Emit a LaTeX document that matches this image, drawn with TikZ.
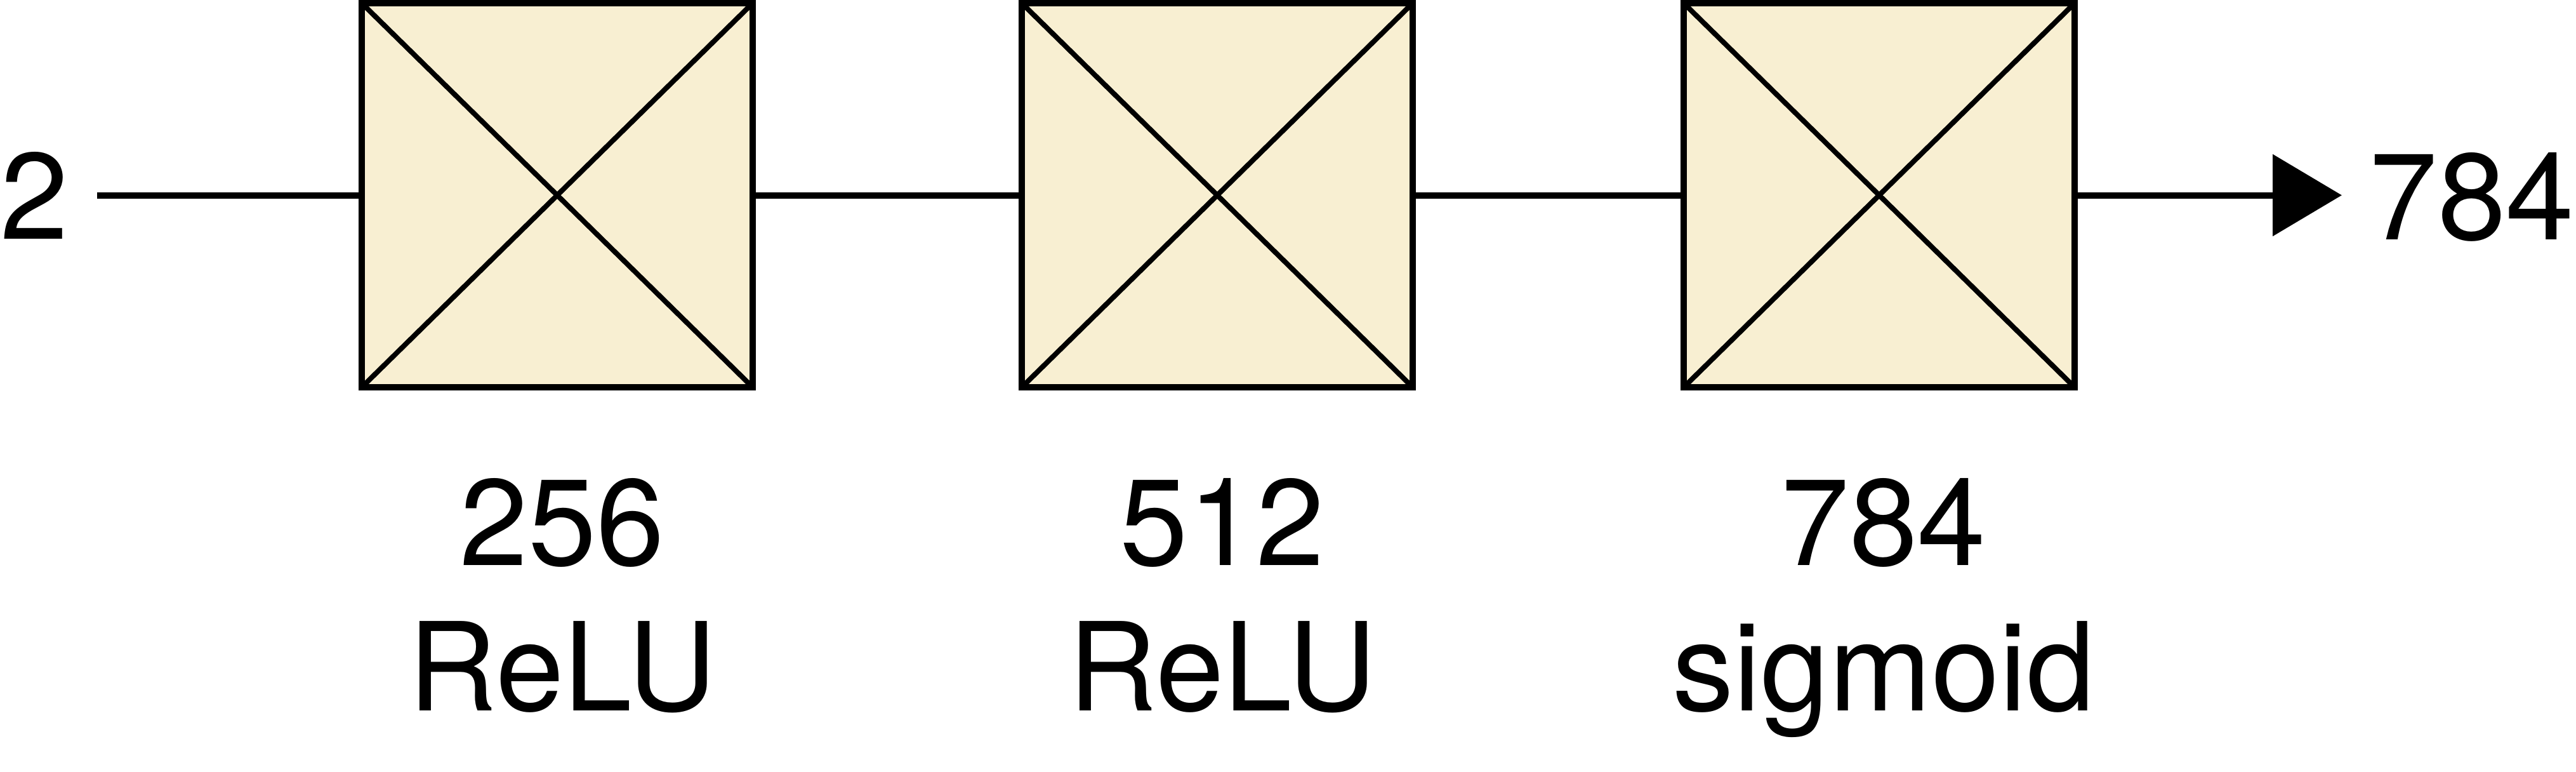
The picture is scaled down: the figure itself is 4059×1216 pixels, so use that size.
\documentclass[tikz,border=0pt]{standalone}
\usepackage{fontspec}
\setmainfont{TeX Gyre Heros}
\usepackage{xcolor}
\usepackage{tikz}
\usetikzlibrary{arrows.meta}
\definecolor{layerfill}{RGB}{248,239,210}

\begin{document}
\begin{tikzpicture}[x=0.05mm,y=-0.05mm]
\tikzstyle{every node}+=[inner sep=0pt,outer sep=0pt,font=\fontsize{27.5}{32}\selectfont]
\tikzstyle{layer}=[draw=black,line width=0.5mm,fill=layerfill,minimum width=30.8mm,minimum height=30.25mm]
\tikzstyle{cross}=[black,line width=0.4mm]
\tikzstyle{wire}=[black,line width=0.5mm]
\useasboundingbox (0,0) rectangle (4059,1216);
\node (in) [anchor=base] at (54,376) {2};
\coordinate (start) at (153,307.5);
\node [layer] (l1) at (878,307.5) {};
\node [layer] (l2) at (1918,307.5) {};
\node [layer] (l3) at (2961,307.5) {};
\coordinate (tip) at (3690,307.5);
\node (out) [anchor=base] at (3895,377) {784};
\draw [cross] (l1.north west) -- (l1.south east);
\draw [cross] (l1.south west) -- (l1.north east);
\draw [cross] (l2.north west) -- (l2.south east);
\draw [cross] (l2.south west) -- (l2.north east);
\draw [cross] (l3.north west) -- (l3.south east);
\draw [cross] (l3.south west) -- (l3.north east);
\draw [wire] (start) -- (l1.west);
\draw [wire] (l1.east) -- (l2.west);
\draw [wire] (l2.east) -- (l3.west);
\draw [wire,-{Triangle[length=5.45mm,width=6.35mm]}] (l3.east) -- (tip);
\node (n1) [anchor=base] at (886,890) {256};
\node (a1) [anchor=base] at (886,1119) {ReLU};
\node (n2) [anchor=base] at (1926,890) {512};
\node (a2) [anchor=base] at (1926,1119) {ReLU};
\node (n3) [anchor=base] at (2968,890) {784};
\node (a3) [anchor=base] at (2968,1119) {sigmoid};
\end{tikzpicture}
\end{document}
